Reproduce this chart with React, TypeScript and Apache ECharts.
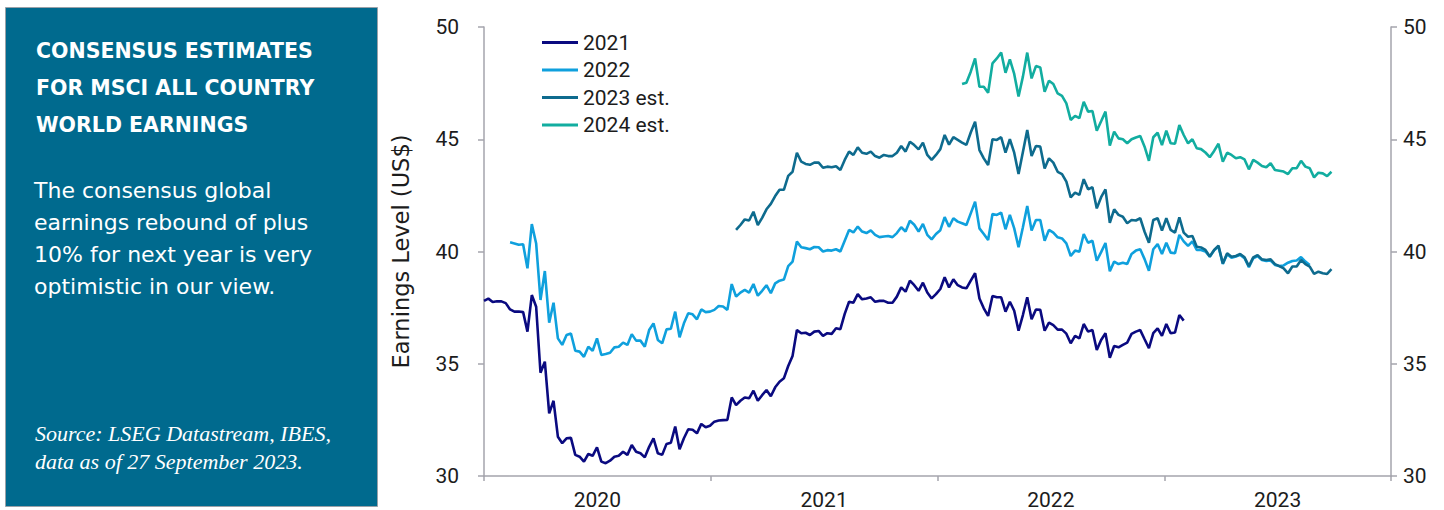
import React, { useEffect, useRef } from "react";
import * as echarts from "echarts";

// ---- data (weekly consensus EPS estimates, week 0 = start of 2020) ----
const yearLabels = ["2020", "2021", "2022", "2023"];
const seriesNames = ["2021", "2022", "2023 est.", "2024 est."];
const titleLines = ["CONSENSUS ESTIMATES", "FOR MSCI ALL COUNTRY", "WORLD EARNINGS"];
const bodyLines = ["The consensus global", "earnings rebound of plus", "10% for next year is very", "optimistic in our view."];
const sourceLines = ["Source: LSEG Datastream, IBES,", "data as of 27 September 2023."];
const yAxisName = "Earnings Level (US$)";

const start2021 = 0;
const values2021 = [
  37.8, 37.9, 37.75, 37.78, 37.78, 37.7, 37.42, 37.32, 37.33, 37.3,
  36.43, 38.06, 37.54, 34.6, 35.09, 32.79, 33.35, 31.75, 31.46, 31.68,
  31.7, 30.94, 30.86, 30.64, 30.98, 30.9, 31.28, 30.64, 30.57, 30.68,
  30.86, 30.9, 31.08, 30.94, 31.38, 31.08, 31.01, 30.83, 31.3, 31.68,
  31.01, 30.94, 31.43, 31.48, 32.2, 31.19, 31.68, 32.08, 32.06, 31.9,
  32.32, 32.17, 32.24, 32.42, 32.47, 32.49, 32.5, 33.5, 33.16, 33.35,
  33.5, 33.46, 33.8, 33.35, 33.6, 33.83, 33.55, 33.95, 34.2, 34.35,
  34.9, 35.35, 36.5, 36.36, 36.38, 36.28, 36.43, 36.46, 36.24, 36.36,
  36.33, 36.58, 36.54, 37.22, 37.76, 37.72, 38.1, 37.87, 37.91, 37.96,
  37.76, 37.8, 37.8, 37.72, 37.72, 37.99, 38.4, 38.21, 38.7, 38.5,
  38.25, 38.61, 38.17, 37.91, 38.1, 38.33, 38.85, 38.4, 38.76, 38.5,
  38.4, 38.36, 38.7, 39.03, 37.91, 37.47, 37.13, 38.02, 37.96, 37.96,
  37.32, 37.76, 37.36, 36.47, 37.17, 37.96, 36.98, 37.42, 37.4, 36.47,
  36.83, 36.72, 36.52, 36.52, 36.34, 35.91, 36.24, 36.13, 36.77, 36.43,
  36.5, 35.61, 36.06, 36.36, 35.27, 35.79, 35.73, 35.84, 35.94, 36.33,
  36.43, 36.5, 36.09, 35.69, 36.36, 36.58, 36.24, 36.77, 36.36, 36.39,
  37.17, 36.92,
];

const start2022 = 6;
const values2022 = [
  40.41, 40.36, 40.3, 40.32, 39.25, 41.22, 40.36, 37.84, 39.13, 36.83,
  37.72, 36.13, 35.84, 36.28, 36.35, 35.58, 35.54, 35.31, 35.76, 35.58,
  36.13, 35.39, 35.43, 35.49, 35.73, 35.76, 35.94, 35.84, 36.32, 36.03,
  36.03, 35.76, 36.5, 36.8, 36.06, 35.91, 36.53, 36.56, 37.32, 36.18,
  36.8, 37.25, 37.2, 36.98, 37.42, 37.3, 37.32, 37.4, 37.57, 37.55,
  37.4, 38.55, 37.99, 38.17, 38.29, 38.17, 38.55, 38.03, 38.25, 38.5,
  38.14, 38.58, 38.7, 38.75, 39.35, 39.55, 40.44, 40.19, 40.15, 40.1,
  40.2, 40.19, 40.0, 40.06, 40.04, 40.1, 40.0, 40.48, 40.96, 40.85,
  41.11, 40.89, 40.82, 40.94, 40.74, 40.64, 40.67, 40.69, 40.64, 40.82,
  41.08, 40.89, 41.37, 41.19, 40.89, 41.23, 40.74, 40.54, 40.78, 40.95,
  41.53, 41.1, 41.48, 41.33, 41.26, 41.18, 41.7, 42.22, 41.03, 40.78,
  40.51, 41.67, 41.63, 41.73, 40.99, 41.63, 41.03, 40.19, 41.08, 42.03,
  40.93, 41.4, 41.4, 40.48, 40.96, 40.84, 40.63, 40.58, 40.36, 39.8,
  40.04, 39.99, 40.78, 40.39, 40.48, 39.59, 39.97, 40.38, 39.12, 39.55,
  39.44, 39.5, 39.44, 39.89, 40.04, 40.1, 39.66, 39.14, 40.1, 40.33,
  39.89, 40.39, 39.95, 39.92, 40.74, 40.45, 40.25, 40.45, 40.07, 40.07,
  40.0, 39.77, 40.05, 40.22, 39.45, 39.88, 39.72, 39.78, 39.85, 39.7,
  39.3, 39.7, 39.8, 39.62, 39.58, 39.6, 39.4, 39.35, 39.38, 39.5,
  39.58, 39.6, 39.75, 39.55, 39.4,
];

const start2023 = 58;
const values2023 = [
  40.96, 41.18, 41.43, 41.38, 41.77, 41.18, 41.5, 41.88, 42.12, 42.47,
  42.75, 42.75, 43.37, 43.55, 44.4, 44.0, 43.9, 43.86, 43.96, 43.96,
  43.73, 43.78, 43.75, 43.8, 43.63, 44.08, 44.45, 44.3, 44.64, 44.4,
  44.35, 44.45, 44.25, 44.18, 44.3, 44.25, 44.25, 44.4, 44.7, 44.45,
  44.89, 44.74, 44.55, 44.85, 44.3, 44.08, 44.3, 44.56, 45.19, 44.76,
  45.09, 44.97, 44.85, 44.75, 45.3, 45.78, 44.52, 44.15, 43.85, 45.0,
  44.97, 45.09, 44.4, 45.0, 44.4, 43.45, 44.43, 45.41, 44.25, 44.7,
  44.67, 43.7, 44.15, 43.96, 43.55, 43.45, 43.11, 42.41, 42.62, 42.52,
  43.22, 42.77, 42.86, 41.92, 42.42, 42.77, 41.28, 41.88, 41.63, 41.55,
  41.26, 41.4, 41.38, 41.48, 40.88, 40.39, 41.4, 41.48, 40.93, 41.48,
  40.96, 40.84, 41.52, 40.84, 40.66, 40.69, 40.21, 40.18, 40.07, 39.78,
  40.07, 40.26, 39.47, 39.92, 39.77, 39.8, 39.89, 39.74, 39.35, 39.74,
  39.84, 39.65, 39.62, 39.65, 39.44, 39.35, 39.25, 39.03, 39.33, 39.33,
  39.62, 39.44, 39.33, 39.0, 39.1, 39.03, 39.0, 39.21,
];

const start2024 = 110;
const values2024 = [
  47.46, 47.52, 48.01, 48.6, 47.34, 47.34, 47.07, 48.38, 48.6, 48.86,
  47.96, 48.56, 47.91, 46.9, 47.79, 48.86, 47.71, 48.26, 48.2, 47.12,
  47.61, 47.46, 47.04, 46.93, 46.6, 45.86, 46.04, 45.94, 46.67, 46.23,
  46.26, 45.38, 45.8, 46.23, 44.72, 45.34, 45.04, 45.0, 44.82, 45.0,
  45.08, 45.14, 44.67, 44.04, 45.09, 45.29, 44.74, 45.38, 44.82, 44.8,
  45.63, 45.19, 44.82, 45.0, 44.6, 44.56, 44.41, 44.2, 44.48, 44.8,
  44.0, 44.4, 44.3, 44.15, 44.2, 44.1, 43.66, 44.08, 43.96, 43.81,
  43.75, 43.93, 43.63, 43.6, 43.56, 43.45, 43.71, 43.71, 44.04, 43.78,
  43.71, 43.3, 43.51, 43.48, 43.36, 43.55,
];

const WEEKS_PER_YEAR = 52.175;
const TOTAL_WEEKS = WEEKS_PER_YEAR * 4;

const colors = ["#0a0a80", "#0fa0dd", "#0e6b8e", "#12ada0"];
const axisGray = "#a4a4ac";
const textDark = "#1c1c1c";
const panelFill = "#006a8e";

function toPairs(start: number, vals: number[]) {
  return vals.map((v, i) => [start + i, v]);
}

export default function App() {
  const ref = useRef<HTMLDivElement>(null);

  useEffect(() => {
    if (!ref.current) return;
    const chart = echarts.init(ref.current, null, { renderer: "svg" });

    const seriesData = [
      toPairs(start2021, values2021),
      toPairs(start2022, values2022),
      toPairs(start2023, values2023),
      toPairs(start2024, values2024),
    ];

    const graphics: any[] = [
      {
        type: "rect",
        shape: { x: 5.5, y: 7.5, width: 372, height: 499 },
        style: { fill: panelFill, stroke: "#9aa1a8", lineWidth: 1 },
        silent: true,
      },
    ];
    const titleY = [51, 87.5, 124.5];
    titleLines.forEach((t, i) =>
      graphics.push({
        type: "text",
        x: 36,
        y: titleY[i],
        style: {
          text: t,
          fill: "#ffffff",
          fontFamily: "DejaVu Sans",
          fontWeight: "bold",
          fontSize: 20.5,
          align: "left",
          verticalAlign: "middle",
        },
      })
    );
    const bodyY = [190, 222, 254, 286];
    bodyLines.forEach((t, i) =>
      graphics.push({
        type: "text",
        x: 34,
        y: bodyY[i],
        style: {
          text: t,
          fill: "#ffffff",
          fontFamily: "DejaVu Sans",
          fontSize: 22,
          align: "left",
          verticalAlign: "middle",
        },
      })
    );
    const sourceY = [433.5, 461.5];
    sourceLines.forEach((t, i) =>
      graphics.push({
        type: "text",
        x: 35,
        y: sourceY[i],
        style: {
          text: t,
          fill: "#ffffff",
          fontFamily: "Liberation Serif",
          fontStyle: "italic",
          fontSize: 22,
          align: "left",
          verticalAlign: "middle",
        },
      })
    );

    const yAxisCommon = {
      type: "value",
      min: 30,
      max: 50,
      interval: 5,
      splitLine: { show: false },
      axisLine: { show: true, lineStyle: { color: axisGray, width: 1.5 } },
      axisTick: { show: true, inside: false, length: 6, lineStyle: { color: axisGray, width: 1.5 } },
    };

    chart.setOption({
      animation: false,
      backgroundColor: "#ffffff",
      color: colors,
      grid: { left: 484, right: 53, top: 27, bottom: 34, containLabel: false },
      legend: {
        orient: "vertical",
        left: 537,
        top: 27,
        icon: "rect",
        itemWidth: 36,
        itemHeight: 3,
        itemGap: 6.5,
        data: seriesNames,
        textStyle: { fontFamily: "Roboto", fontSize: 21, color: textDark, lineHeight: 21 },
      },
      xAxis: [
        {
          type: "value",
          min: 0,
          max: TOTAL_WEEKS,
          interval: WEEKS_PER_YEAR,
          splitLine: { show: false },
          axisLabel: { show: false },
          axisLine: { show: true, onZero: false, lineStyle: { color: axisGray, width: 1.5 } },
          axisTick: { show: true, inside: false, length: 5, lineStyle: { color: axisGray, width: 1.5 } },
        },
        {
          type: "category",
          data: yearLabels,
          position: "bottom",
          boundaryGap: true,
          axisLine: { show: false, onZero: false },
          axisTick: { show: false },
          splitLine: { show: false },
          axisLabel: { fontFamily: "Roboto", fontSize: 21, color: textDark, margin: 13 },
        },
      ],
      yAxis: [
        {
          ...yAxisCommon,
          position: "left",
          name: yAxisName,
          nameLocation: "middle",
          nameGap: 72,
          nameTextStyle: { fontFamily: "DejaVu Sans", fontSize: 22.5, color: textDark },
          axisLabel: { fontFamily: "Roboto", fontSize: 21, color: textDark, margin: 25 },
        },
        {
          ...yAxisCommon,
          position: "right",
          axisLabel: { fontFamily: "Roboto", fontSize: 21, color: textDark, margin: 12 },
        },
      ],
      series: seriesNames.map((name, i) => ({
        name,
        type: "line",
        xAxisIndex: 0,
        yAxisIndex: 0,
        data: seriesData[i],
        showSymbol: false,
        symbol: "none",
        lineStyle: { width: 2.6, color: colors[i] },
        itemStyle: { color: colors[i] },
        z: 2 + i,
      })),
      graphic: graphics,
    });

    return () => chart.dispose();
  }, []);

  return (
    <div
      ref={ref}
      style={{ position: "absolute", left: 0, top: 0, width: 1444, height: 510 }}
    />
  );
}
